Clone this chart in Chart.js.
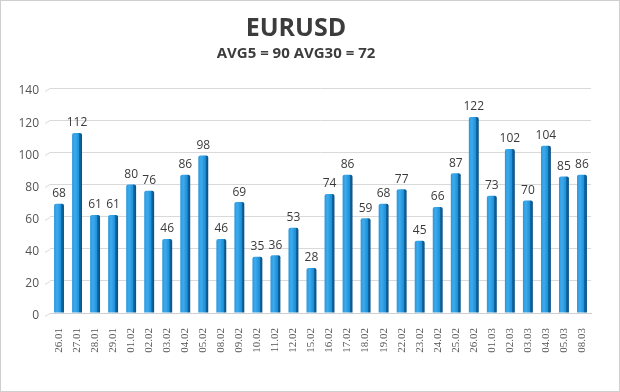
<!DOCTYPE html>
<html>
<head>
<meta charset="utf-8">
<script src="https://cdn.jsdelivr.net/npm/chart.js"></script>
<style>
  html, body { margin: 0; padding: 0; background: #fff; }
  #wrap { width: 618px; height: 390px; border: 1px solid #cfcfcf; }
</style>
</head>
<body>
<div id="wrap"><canvas id="c" width="618" height="390"></canvas></div>
<script>
const dates = ["26.01", "27.01", "28.01", "29.01", "01.02", "02.02", "03.02", "04.02", "05.02", "08.02",
  "09.02", "10.02", "11.02", "12.02", "15.02", "16.02", "17.02", "18.02", "19.02", "22.02",
  "23.02", "24.02", "25.02", "26.02", "01.03", "02.03", "03.03", "04.03", "05.03", "08.03"];
const volatility = [68, 112, 61, 61, 80, 76, 46, 86, 98, 46,
  69, 35, 36, 53, 28, 74, 86, 59, 68, 77,
  45, 66, 87, 122, 73, 102, 70, 104, 85, 86];
const yTicks = [0, 20, 40, 60, 80, 100, 120, 140];
const titleText = "EURUSD";
const subtitleText = "AVG5 = 90 AVG30 = 72";

function barFill(ctx) {
  const chart = ctx.chart;
  const el = chart.getDatasetMeta(0).data[ctx.dataIndex];
  if (!el || !isFinite(el.x) || !el.width) return "#1f8fd6";
  const x0 = el.x - el.width / 2, x1 = el.x + el.width / 2;
  const g = chart.ctx.createLinearGradient(x0, 0, x1, 0);
  g.addColorStop(0, "#2a98de");
  g.addColorStop(0.3, "#3eaaec");
  g.addColorStop(0.72, "#1a8fd8");
  g.addColorStop(0.74, "#0e6aa8");
  g.addColorStop(1, "#0b4f82");
  return g;
}

// short slanted ends on the grid lines, like the 3D back wall
const gridSlant = {
  id: "gridSlant",
  beforeDatasetsDraw(chart) {
    const ctx = chart.ctx;
    const y = chart.scales.y;
    const left = chart.chartArea.left;
    ctx.save();
    ctx.strokeStyle = "#d9d9d9";
    ctx.lineWidth = 1;
    yTicks.forEach(v => {
      const py = Math.round(y.getPixelForValue(v)) + 0.5;
      ctx.beginPath();
      ctx.moveTo(left - 5, py + 3);
      ctx.lineTo(left, py);
      ctx.stroke();
    });
    ctx.restore();
  }
};

const valueLabels = {
  id: "valueLabels",
  afterDatasetsDraw(chart) {
    const ctx = chart.ctx;
    ctx.save();
    ctx.font = "12px 'Open Sans', sans-serif";
    ctx.fillStyle = "#3a3a3a";
    ctx.textAlign = "center";
    ctx.textBaseline = "bottom";
    chart.getDatasetMeta(0).data.forEach((bar, i) => {
      ctx.fillText(volatility[i], bar.x, bar.y - 4);
    });
    ctx.restore();
  }
};

const chart = new Chart(document.getElementById("c"), {
  type: "bar",
  data: {
    labels: dates,
    datasets: [{
      data: volatility,
      backgroundColor: barFill,
      borderWidth: 0,
      borderRadius: { topLeft: 2, topRight: 2 },
      borderSkipped: "bottom",
      barPercentage: 0.55,
      categoryPercentage: 1
    }]
  },
  options: {
    responsive: false,
    animation: false,
    layout: { padding: { top: 0, right: 28, bottom: 0, left: 0 } },
    plugins: {
      legend: { display: false },
      tooltip: { enabled: false },
      title: {
        display: true,
        text: titleText,
        color: "#3c3c3c",
        font: { family: "'Open Sans', sans-serif", size: 25, weight: "bold" },
        padding: { top: 13, bottom: 0 }
      },
      subtitle: {
        display: true,
        text: subtitleText,
        color: "#3c3c3c",
        font: { family: "'Open Sans', sans-serif", size: 15, weight: "bold" },
        padding: { top: 1, bottom: 25 }
      }
    },
    scales: {
      x: {
        grid: { display: false },
        border: { color: "#d0d0d0" },
        ticks: {
          color: "#555",
          font: { family: "'Liberation Serif', serif", size: 11 },
          minRotation: 90,
          maxRotation: 90,
          autoSkip: false,
          padding: 7
        },
        afterFit(scale) { scale.height = 78; }
      },
      y: {
        min: 0,
        max: 140,
        afterBuildTicks(scale) { scale.ticks = yTicks.map(v => ({ value: v })); },
        grid: { color: "#d9d9d9", drawTicks: false },
        border: { display: false },
        ticks: {
          color: "#555",
          font: { family: "'Open Sans', sans-serif", size: 12 },
          padding: 11,
          labelOffset: 3
        },
        afterFit(scale) { scale.width = 49; }
      }
    }
  },
  plugins: [gridSlant, valueLabels]
});
chart.update();
</script>
</body>
</html>
